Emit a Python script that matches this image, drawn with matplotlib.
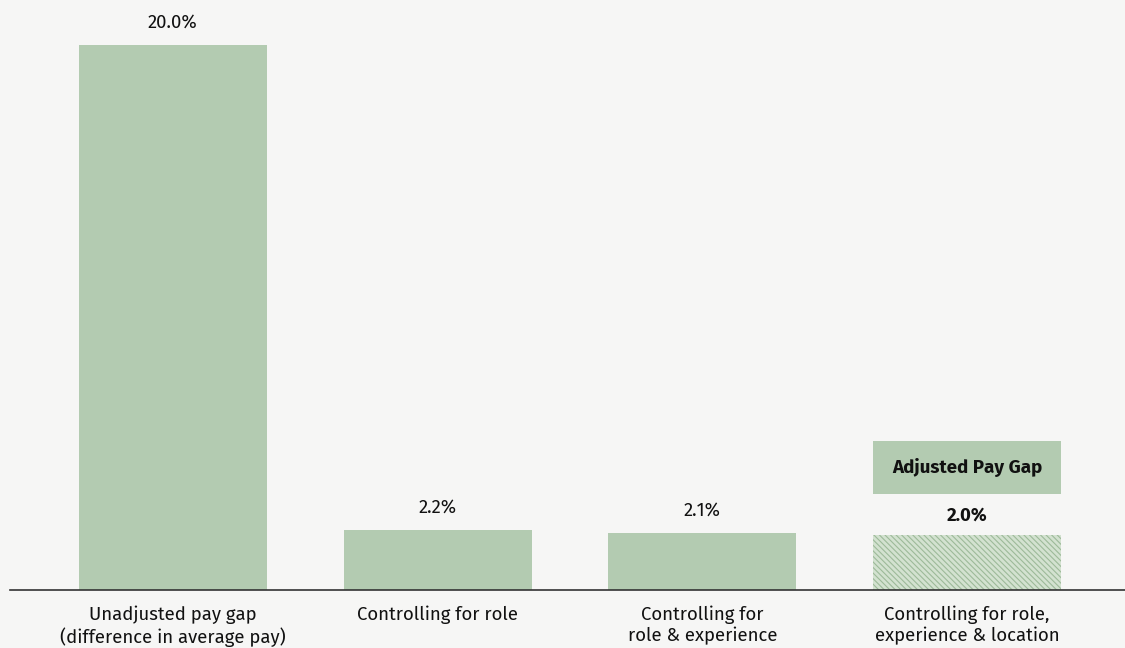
import matplotlib.pyplot as plt
from matplotlib.patches import Rectangle
import numpy as np

plt.rcParams['font.family'] = ['Fira Sans', 'Open Sans', 'DejaVu Sans']

categories = ["Unadjusted pay gap\n(difference in average pay)",
              "Controlling for role",
              "Controlling for\nrole & experience",
              "Controlling for role,\nexperience & location"]
values = [20.0, 2.2, 2.1, 2.0]
value_labels = ["20.0%", "2.2%", "2.1%", "2.0%"]
callout = "Adjusted Pay Gap"

bg = "#f6f6f5"
green = "#b3cbb1"
light_green = "#d3e2d0"
hatch_green = "#9dba99"

fig = plt.figure(figsize=(11.25, 6.48), dpi=100, facecolor=bg)
ax = fig.add_axes([10 / 1125, 58 / 648, 1 - 10 / 1125, 1 - 58 / 648])
ax.set_facecolor(bg)

x = np.arange(len(values))
w = 0.71
bars = ax.bar(x[:3], values[:3], width=w, color=green, zorder=2)
plt.rcParams['hatch.color'] = hatch_green
plt.rcParams['hatch.linewidth'] = 0.8
hb = ax.bar(x[3], values[3], width=w, color=light_green, hatch="\\" * 6, edgecolor=hatch_green,
            linewidth=0, zorder=2)

for i, (v, lab) in enumerate(zip(values, value_labels)):
    bold = i == 3
    ax.annotate(lab, (x[i], v), xytext=(0, 8 if bold else 9.5), textcoords="offset points",
                ha="center", va="bottom", fontsize=13.3, color="#111111",
                fontweight="bold" if bold else "normal")

# callout box above the adjusted bar
box_bottom = values[3] + 1.52
box_h = 1.95
ax.add_patch(Rectangle((x[3] - w / 2, box_bottom), w, box_h, facecolor=green,
                       edgecolor="none", zorder=2))
ax.text(x[3], box_bottom + box_h / 2, callout, ha="center", va="center",
        fontsize=13.5, fontweight="bold", color="#111111", zorder=3)

ax.set_xlim(-0.615, 3.596)
ax.set_ylim(0, 21.65)
ax.set_xticks(x)
ax.set_xticklabels(categories, fontsize=13.4, color="#111111", linespacing=1.2)
ax.tick_params(axis="x", length=0, pad=11)
ax.set_yticks([])
for s in ["top", "right", "left"]:
    ax.spines[s].set_visible(False)
ax.spines["bottom"].set_color("#333333")
ax.spines["bottom"].set_linewidth(1.2)
ax.spines["bottom"].set_zorder(4)

plt.savefig("out.png", dpi=100, facecolor=bg)
